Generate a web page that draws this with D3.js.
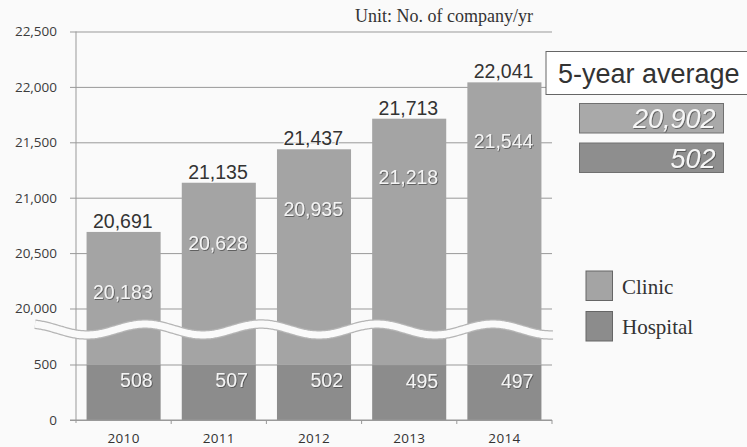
<!DOCTYPE html>
<html>
<head>
<meta charset="utf-8">
<script src="https://cdn.jsdelivr.net/npm/d3@7"></script>
<style>
  html, body { margin: 0; padding: 0; background: #fafafa; }
  svg { display: block; }
</style>
</head>
<body>
<svg id="chart" width="747" height="447"></svg>
<script>
// Registered medical institutions per year
const years = ["2010", "2011", "2012", "2013", "2014"];
const clinic = [20183, 20628, 20935, 21218, 21544];
const hospital = [508, 507, 502, 495, 497];
const yTicks = [0, 500, 20000, 20500, 21000, 21500, 22000, 22500];
const seriesNames = ["Clinic", "Hospital"];
const unitLabel = "Unit: No. of company/yr";
const avgTitle = "5-year average";

const colors = { Clinic: "#a4a4a4", Hospital: "#8c8c8c" };
const fmt = d3.format(",");

const svg = d3.select("#chart");
const plot = { left: 76, right: 552, top: 31.5, bottom: 420 };

// Broken value axis: 0–500 below the break, 20,000–22,500 above it
const y = d3.scaleLinear()
  .domain([0, 500, 20000, 22500])
  .range([plot.bottom, 364.5, 308.5, plot.top]);

const x = d3.scaleBand()
  .domain(years)
  .range([plot.left, plot.right])
  .paddingInner(0.222)
  .paddingOuter(0.111);

const rows = years.map((yr, i) => ({
  year: yr, clinic: clinic[i], hospital: hospital[i], total: clinic[i] + hospital[i]
}));

// Drop shadow for white labels
const defs = svg.append("defs");
const sh = defs.append("filter").attr("id", "shadow")
  .attr("x", "-10%").attr("y", "-20%").attr("width", "130%").attr("height", "150%");
sh.append("feDropShadow").attr("dx", 0.8).attr("dy", 0.8)
  .attr("stdDeviation", 0.6).attr("flood-color", "#444").attr("flood-opacity", 0.9);

// Gridlines with tick labels
const yAxis = d3.axisLeft(y)
  .tickValues(yTicks)
  .tickFormat(fmt)
  .tickSize(plot.right - plot.left + 6)
  .tickPadding(13);
const gy = svg.append("g")
  .attr("transform", `translate(${plot.right},0)`)
  .call(yAxis);
gy.select(".domain").remove();
gy.selectAll(".tick line").attr("stroke", "#999").attr("stroke-width", 1);
gy.selectAll(".tick text")
  .attr("fill", "#3c3c3c")
  .style("font-family", "'Open Sans', sans-serif")
  .style("font-size", "13.5px");

// Vertical axis line
svg.append("line")
  .attr("x1", plot.left).attr("x2", plot.left)
  .attr("y1", y(22500)).attr("y2", plot.bottom + 3)
  .attr("stroke", "#999");

// Bars: hospital at the base, clinic stacked on top
const bars = svg.append("g");
bars.selectAll("rect.hospital").data(rows).join("rect")
  .attr("class", "hospital")
  .attr("x", d => x(d.year)).attr("width", x.bandwidth())
  .attr("y", d => y(d.hospital)).attr("height", d => y(0) - y(d.hospital))
  .attr("fill", colors.Hospital);
bars.selectAll("rect.clinic").data(rows).join("rect")
  .attr("class", "clinic")
  .attr("x", d => x(d.year)).attr("width", x.bandwidth())
  .attr("y", d => y(d.total)).attr("height", d => y(d.hospital) - y(d.total))
  .attr("fill", colors.Clinic);

// Wavy break across the compressed part of the axis
const breakY = (y(500) + y(20000)) / 2 - 7;
const period = 116, amp = 5.5, x0 = 87 - period / 4;
const wavePts = d3.range(35, 554, 2).map(px => [px, breakY + amp * Math.sin(2 * Math.PI * (px - x0) / period)]);
const wave = d3.line().curve(d3.curveBasis)(wavePts);
svg.append("path").attr("d", wave).attr("fill", "none")
  .attr("stroke", "#b5b5b5").attr("stroke-width", 9.5);
svg.append("path").attr("d", wave).attr("fill", "none")
  .attr("stroke", "#fafafa").attr("stroke-width", 7);

// Category axis
const xAxis = d3.axisBottom(x).tickSize(0).tickPadding(13.5);
const gx = svg.append("g")
  .attr("transform", `translate(0,${plot.bottom})`)
  .call(xAxis);
gx.select(".domain").remove();
gx.selectAll(".tick text")
  .attr("fill", "#333")
  .style("font-family", "'Open Sans', sans-serif")
  .style("font-size", "13.5px")
  .style("letter-spacing", "0.3px");

svg.append("line")
  .attr("x1", plot.left - 6).attr("x2", plot.right)
  .attr("y1", plot.bottom).attr("y2", plot.bottom)
  .attr("stroke", "#999");
const bounds = years.map(yr => x(yr) - x.step() * x.paddingInner() / 2).slice(1).concat([plot.right]);
svg.append("g").selectAll("line").data(bounds).join("line")
  .attr("x1", d => d).attr("x2", d => d)
  .attr("y1", plot.bottom).attr("y2", plot.bottom + 4)
  .attr("stroke", "#999");

// Value labels
const labelFont = "'Liberation Sans', Arial, sans-serif";
const labels = svg.append("g").style("font-family", labelFont).style("font-size", "19.5px");
labels.selectAll("text.total").data(rows).join("text")
  .attr("class", "total")
  .attr("x", d => x(d.year) + x.bandwidth() - 8)
  .attr("y", d => y(d.total) - 4)
  .attr("text-anchor", "end")
  .attr("fill", "#333")
  .attr("stroke", "#fafafa").attr("stroke-width", 2).attr("paint-order", "stroke")
  .text(d => fmt(d.total));
labels.selectAll("text.clinic").data(rows).join("text")
  .attr("class", "clinic")
  .attr("x", d => x(d.year) + x.bandwidth() - 8)
  .attr("y", d => y(d.clinic) + 4)
  .attr("dy", "0.35em")
  .attr("text-anchor", "end")
  .attr("fill", "#f4f4f4")
  .attr("filter", "url(#shadow)")
  .text(d => fmt(d.clinic));
labels.selectAll("text.hosp").data(rows).join("text")
  .attr("class", "hosp")
  .attr("x", d => x(d.year) + x.bandwidth() - 8)
  .attr("y", d => y(d.hospital) + 23)
  .attr("text-anchor", "end")
  .attr("fill", "#f4f4f4")
  .attr("filter", "url(#shadow)")
  .text(d => fmt(d.hospital));

// Unit note
svg.append("text")
  .attr("x", 533).attr("y", 21.5)
  .attr("text-anchor", "end")
  .attr("fill", "#333")
  .style("font-family", "'Liberation Serif', 'Times New Roman', serif")
  .style("font-size", "18px")
  .text(unitLabel);

// Five-year averages panel
svg.append("rect")
  .attr("x", 546).attr("y", 51.5).attr("width", 210).attr("height", 43)
  .attr("fill", "#fff").attr("stroke", "#666");
svg.append("text")
  .attr("x", 558).attr("y", 83)
  .attr("fill", "#333")
  .style("font-family", labelFont).style("font-size", "27px")
  .text(avgTitle);

const averages = [
  { key: "Clinic", value: Math.round(d3.mean(clinic)), fill: "#a9a9a9" },
  { key: "Hospital", value: Math.round(d3.mean(hospital)), fill: "#8e8e8e" }
];
const avgG = svg.append("g").selectAll("g").data(averages).join("g")
  .attr("transform", (d, i) => `translate(579.5,${103.5 + i * 39.5})`);
avgG.append("rect")
  .attr("width", 144).attr("height", 29.5)
  .attr("fill", d => d.fill)
  .attr("stroke", "#707070");
avgG.append("text")
  .attr("x", 136).attr("y", 24.5)
  .attr("text-anchor", "end")
  .attr("fill", "#f6f6f6")
  .attr("filter", "url(#shadow)")
  .style("font-family", labelFont).style("font-size", "27px").style("font-style", "italic")
  .text(d => fmt(d.value));

// Series legend
const leg = svg.append("g").selectAll("g").data(seriesNames).join("g")
  .attr("transform", (d, i) => `translate(586,${271 + i * 40.5})`);
leg.append("rect")
  .attr("width", 26.5).attr("height", 29.5)
  .attr("fill", d => colors[d]).attr("stroke", "#666");
leg.append("text")
  .attr("x", 36).attr("y", 22.5)
  .attr("fill", "#333")
  .style("font-family", "'Liberation Serif', 'Times New Roman', serif")
  .style("font-size", "21px")
  .text(d => d);
</script>
</body>
</html>
